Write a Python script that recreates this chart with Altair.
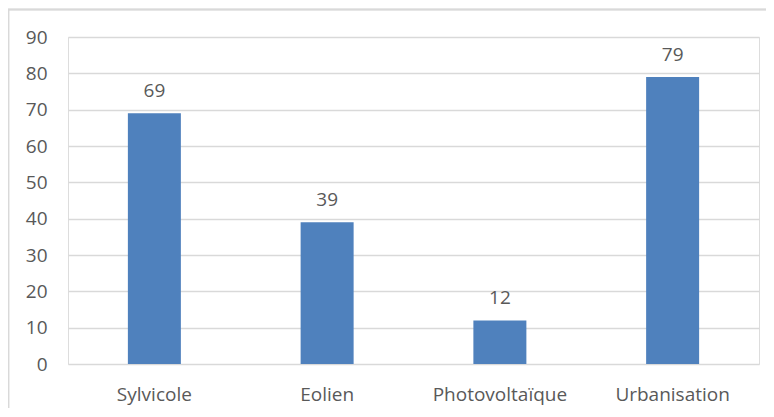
import altair as alt
import pandas as pd

categories = ["Sylvicole", "Eolien", "Photovoltaïque", "Urbanisation"]
values = [69, 39, 12, 79]
y_ticks = [0, 10, 20, 30, 40, 50, 60, 70, 80, 90]

df = pd.DataFrame({"cat": categories, "val": values})

FONT = "Open Sans"
TXT = "#595959"
GRID = "#D9D9D9"
BAR = "#4F81BD"
FS = 19

x = alt.X("cat:N", sort=categories, title=None,
          scale=alt.Scale(paddingInner=0, paddingOuter=0),
          axis=alt.Axis(labelAngle=0, labelFont=FONT, labelFontSize=FS, labelColor=TXT,
                        ticks=False, domain=False, labelPadding=21, grid=False))
y = alt.Y("val:Q", title=None,
          scale=alt.Scale(domain=[0, 90], nice=False),
          axis=alt.Axis(values=y_ticks, labelFont=FONT, labelFontSize=FS, labelColor=TXT,
                        ticks=False, domain=False, labelPadding=21,
                        gridColor=GRID, gridWidth=1.3))

bars = alt.Chart(df).mark_bar(color=BAR, size=53).encode(x=x, y=y)
labels = alt.Chart(df).mark_text(font=FONT, fontSize=FS, color=TXT,
                                 baseline="alphabetic", dy=-16).encode(
    x=x, y=y, text="val:Q")

border = alt.Chart(df).mark_rect(fill=None, stroke=GRID, strokeWidth=1.3, clip=False).encode(
    x=alt.value(-59.5), y=alt.value(-27.5), x2=alt.value(900), y2=alt.value(600))

chart = alt.layer(border, bars, labels).properties(
    width=691, height=327,
    autosize=alt.AutoSizeParams(type="none"),
    padding={"left": 60, "top": 29, "right": 7, "bottom": 44},
).configure_view(stroke=None).configure(background="white")

chart.save("out.html", embed_options={"renderer": "svg", "actions": False})
